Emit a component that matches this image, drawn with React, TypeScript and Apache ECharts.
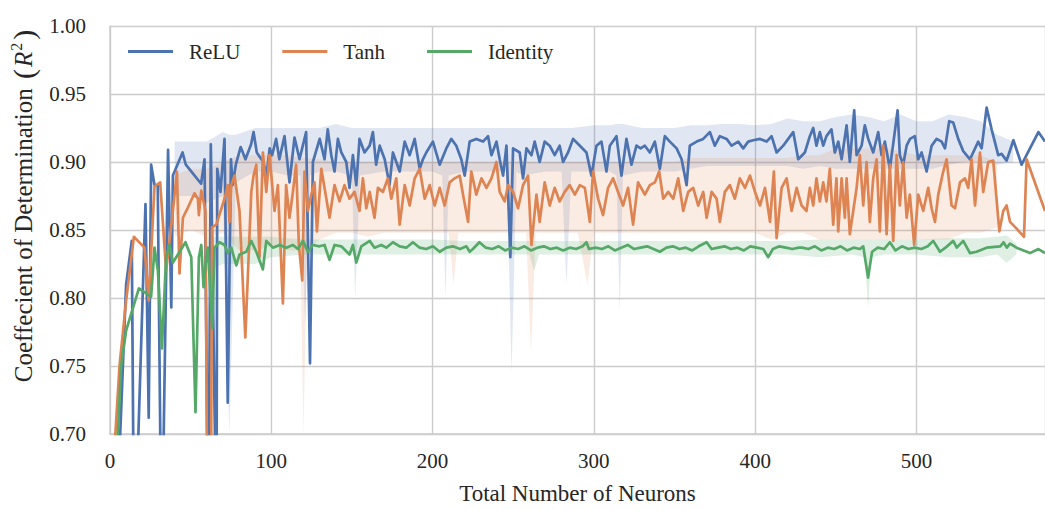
import React, { useEffect, useRef } from "react";
import * as echarts from "echarts";

// ---- data: [neurons, R^2] ----
const reluPoints: number[][] = [
  [5, 0.66], [10, 0.81], [13.5, 0.842], [15, 0.6], [22, 0.869], [24, 0.712], [25.5, 0.898], [27.6, 0.883],
  [29.6, 0.883], [32, 0.6], [36, 0.909], [38, 0.793], [39, 0.89], [45, 0.907], [47, 0.898], [56.5, 0.884],
  [58.6, 0.902], [61, 0.62], [62.5, 0.913], [66, 0.62], [66.5, 0.895], [68.5, 0.878], [71, 0.917], [73, 0.723],
  [75, 0.902], [76, 0.883], [78, 0.898], [81, 0.911], [84, 0.902], [87.5, 0.913], [89, 0.922], [91, 0.907],
  [95, 0.9], [97, 0.89], [99, 0.91], [100.5, 0.905], [103, 0.917], [105, 0.902], [108.2, 0.919], [111.3, 0.885],
  [114.4, 0.918], [117.5, 0.902], [121.6, 0.922], [124, 0.752], [125.8, 0.9], [130, 0.917], [133, 0.902],
  [135, 0.924], [137.2, 0.905], [139.2, 0.893], [141.3, 0.917], [143.4, 0.907], [146.5, 0.9], [148.5, 0.881],
  [150.6, 0.905], [152.7, 0.883], [154.7, 0.917], [157.8, 0.907], [161, 0.912], [163, 0.922], [165, 0.898],
  [167.2, 0.912], [170.3, 0.902], [173.3, 0.883], [175.4, 0.907], [179.6, 0.893], [182.7, 0.915], [185.8, 0.905],
  [188.9, 0.917], [192, 0.895], [194, 0.902], [196.1, 0.907], [200.2, 0.915], [204.4, 0.898], [208.5, 0.91],
  [211.6, 0.917], [214.7, 0.912], [217.8, 0.902], [219.9, 0.89], [223, 0.915], [227.1, 0.917], [231.3, 0.915],
  [234.4, 0.919], [236.5, 0.905], [239.6, 0.915], [241.6, 0.902], [243.7, 0.89], [245.8, 0.912], [248.2, 0.83],
  [249.9, 0.91], [254, 0.907], [256.1, 0.888], [258.2, 0.91], [261.3, 0.905], [263.3, 0.915], [266.4, 0.9],
  [269.5, 0.915], [272.6, 0.912], [275.7, 0.905], [278.8, 0.912], [280.9, 0.9], [284, 0.907], [287.1, 0.917],
  [291.3, 0.912], [295.4, 0.907], [298.5, 0.89], [301.6, 0.912], [304.7, 0.915], [307.8, 0.893], [309.9, 0.912],
  [314, 0.919], [317.1, 0.89], [320.2, 0.917], [323.3, 0.898], [326.4, 0.912], [329, 0.91], [331.6, 0.912],
  [334.7, 0.907], [337.8, 0.915], [340.9, 0.895], [344, 0.919], [347.1, 0.915], [351.3, 0.91], [354.4, 0.902],
  [357.5, 0.883], [359.5, 0.912], [363.7, 0.915], [367.8, 0.917], [371.9, 0.922], [375, 0.912], [378.1, 0.919],
  [382.3, 0.917], [385.4, 0.912], [389.5, 0.915], [392.6, 0.91], [395.7, 0.915], [398.8, 0.916], [403, 0.917],
  [407.1, 0.915], [410.2, 0.919], [413.3, 0.907], [417.4, 0.912], [420.5, 0.917], [423.6, 0.922], [426.7, 0.902],
  [430.8, 0.907], [433.9, 0.919], [436, 0.925], [438, 0.912], [440.1, 0.922], [442.2, 0.912], [444.2, 0.919],
  [447.3, 0.924], [449.4, 0.907], [451.5, 0.915], [453.6, 0.902], [456.7, 0.927], [458.7, 0.9], [461.4, 0.938],
  [462.9, 0.905], [466, 0.912], [468, 0.927], [470.1, 0.917], [473.2, 0.907], [476.3, 0.922], [478.4, 0.905],
  [480.4, 0.915], [483.5, 0.895], [486, 0.917], [488.3, 0.938], [489.7, 0.905], [491.8, 0.898], [493.9, 0.912],
  [496, 0.917], [499, 0.919], [501.1, 0.902], [503.2, 0.907], [506.3, 0.893], [509.4, 0.912], [512.5, 0.917],
  [515.6, 0.915], [517.7, 0.91], [520.3, 0.93], [522.8, 0.929], [525.9, 0.917], [529, 0.908], [533.2, 0.902],
  [538.3, 0.915], [540.4, 0.91], [543.5, 0.94], [546.6, 0.924], [550.7, 0.905], [552.8, 0.906], [555.9, 0.901],
  [560.1, 0.916], [565.2, 0.898], [570.4, 0.91], [575.6, 0.922], [579.7, 0.915],
];

const tanhPoints: number[][] = [
  [2.8, 0.69], [5.9, 0.75], [10, 0.798], [14.8, 0.845], [21.4, 0.837], [24, 0.798], [27.6, 0.882], [31.1, 0.885],
  [34.8, 0.82], [39, 0.864], [41.5, 0.893], [43.1, 0.818], [45.2, 0.859], [47.3, 0.864], [52.4, 0.877],
  [54.5, 0.873], [55.1, 0.861], [56.6, 0.879], [59.2, 0.864], [60.5, 0.6], [62.5, 0.6], [63.2, 0.852],
  [65.9, 0.854], [71, 0.873], [73.1, 0.883], [74.1, 0.856], [75.2, 0.883], [77.2, 0.89], [80.3, 0.864],
  [83.9, 0.771], [87.6, 0.878], [89, 0.89], [90.7, 0.898], [92.7, 0.83], [94.8, 0.907], [96.9, 0.878],
  [98.9, 0.905], [102, 0.864], [104.1, 0.883], [107.2, 0.796], [109.2, 0.883], [111.3, 0.859], [113.4, 0.878],
  [115.4, 0.898], [117.1, 0.839], [119.2, 0.813], [120.6, 0.893], [122.7, 0.864], [124.8, 0.876], [126.8, 0.885],
  [128.3, 0.849], [131, 0.895], [133, 0.881], [136.1, 0.859], [139.2, 0.883], [142.3, 0.871], [145.4, 0.883],
  [148.5, 0.873], [151.6, 0.878], [154.7, 0.864], [156.8, 0.888], [158.9, 0.866], [161, 0.878], [164, 0.859],
  [166.1, 0.881], [169.2, 0.878], [172.3, 0.888], [174.4, 0.873], [177.5, 0.888], [179.6, 0.854], [182.7, 0.883],
  [185.8, 0.868], [188.9, 0.888], [192, 0.895], [195.1, 0.873], [198.2, 0.883], [201.3, 0.868], [204.4, 0.881],
  [207.5, 0.868], [210.6, 0.885], [213.7, 0.888], [216.8, 0.89], [218.9, 0.876], [222, 0.856], [224, 0.893],
  [227.1, 0.876], [230.3, 0.888], [233.4, 0.881], [236.5, 0.888], [239.6, 0.9], [241.6, 0.878], [244.7, 0.871],
  [246.8, 0.883], [249.9, 0.878], [253, 0.866], [256.1, 0.883], [259.2, 0.89], [261.3, 0.839], [264.4, 0.876],
  [266.4, 0.856], [269.5, 0.885], [272.6, 0.868], [275.7, 0.881], [278.8, 0.871], [281.9, 0.878], [285, 0.883],
  [288.2, 0.876], [291.3, 0.883], [294.4, 0.881], [297.5, 0.856], [299.5, 0.893], [302.6, 0.873], [305.7, 0.861],
  [308.8, 0.881], [311.9, 0.888], [315, 0.878], [318.1, 0.868], [321.2, 0.881], [324.3, 0.854], [327.4, 0.885],
  [331.6, 0.876], [334.7, 0.883], [337.8, 0.885], [340.5, 0.893], [343, 0.873], [346.1, 0.878], [349.2, 0.873],
  [352.3, 0.888], [355.4, 0.864], [358.5, 0.878], [361.6, 0.881], [364.7, 0.868], [367.8, 0.878], [369.9, 0.859],
  [373, 0.878], [376.1, 0.873], [378.1, 0.856], [381.2, 0.878], [384.3, 0.883], [387.4, 0.873], [390.5, 0.888],
  [393.7, 0.881], [396.8, 0.89], [399.9, 0.878], [403, 0.868], [406.1, 0.881], [409.2, 0.856], [411.6, 0.893],
  [413.3, 0.844], [416.4, 0.881], [419.5, 0.888], [422.6, 0.864], [425.7, 0.881], [428.8, 0.868], [431.8, 0.864],
  [433.9, 0.881], [436, 0.868], [438, 0.888], [440.1, 0.871], [442.2, 0.885], [444.2, 0.871], [446.3, 0.895],
  [448.4, 0.854], [450.4, 0.888], [451.5, 0.849], [453.6, 0.888], [455.6, 0.859], [456.7, 0.888], [458.7, 0.847],
  [460.8, 0.864], [462.9, 0.881], [464.9, 0.905], [467, 0.868], [469.1, 0.9], [471.1, 0.856], [473.2, 0.888],
  [475.3, 0.902], [477.3, 0.849], [479.4, 0.912], [481.5, 0.847], [483.5, 0.898], [485.6, 0.842], [487.7, 0.905],
  [489.7, 0.868], [491.8, 0.9], [493.9, 0.859], [495.9, 0.876], [498.6, 0.839], [501.1, 0.876], [504.2, 0.864],
  [507.3, 0.881], [509.4, 0.866], [511.5, 0.856], [513.5, 0.876], [516.6, 0.893], [518.7, 0.902], [521.8, 0.868],
  [523.9, 0.866], [527, 0.885], [530.1, 0.888], [532.1, 0.881], [534.2, 0.902], [536.3, 0.868], [539.4, 0.907],
  [541.4, 0.878], [544.5, 0.9], [547.6, 0.901], [551.4, 0.849], [553.8, 0.864], [555.9, 0.868], [558, 0.856],
  [562.1, 0.851], [566.7, 0.845], [568.3, 0.902], [579.7, 0.864],
];

const identityPoints: number[][] = [
  [4.5, 0.69], [6.9, 0.75], [10, 0.776], [17.9, 0.807], [25.5, 0.801], [27.6, 0.837], [29.7, 0.82], [32.2, 0.763],
  [34.8, 0.83], [36.9, 0.839], [39, 0.826], [46.8, 0.841], [50.4, 0.83], [53, 0.716], [55.1, 0.83], [56.6, 0.839],
  [58, 0.808], [59.7, 0.83], [60.7, 0.837], [63.4, 0.778], [64.8, 0.837], [67.9, 0.841], [71, 0.839], [73.1, 0.833],
  [75.2, 0.837], [78.3, 0.824], [80.3, 0.832], [84.5, 0.834], [87.6, 0.842], [90.7, 0.834], [94.8, 0.821],
  [96.9, 0.842], [101, 0.837], [105.2, 0.839], [109.3, 0.837], [113.4, 0.839], [116.5, 0.836], [119.6, 0.842],
  [122.7, 0.834], [125.8, 0.839], [129.9, 0.838], [133, 0.839], [136.1, 0.828], [139.2, 0.839], [143.4, 0.838],
  [148.5, 0.832], [150.6, 0.839], [152.7, 0.826], [155.8, 0.838], [161, 0.842], [164, 0.837], [168.2, 0.839],
  [171.3, 0.837], [175.4, 0.841], [179.6, 0.838], [183.7, 0.837], [187.8, 0.841], [192, 0.837], [196.1, 0.836],
  [200.2, 0.838], [204.4, 0.834], [208.5, 0.837], [212.6, 0.838], [217, 0.836], [221, 0.838], [223, 0.834],
  [225, 0.836], [229, 0.841], [233, 0.837], [237, 0.836], [241, 0.838], [245, 0.835], [249, 0.837], [253, 0.836],
  [257, 0.838], [261, 0.835], [265, 0.837], [269, 0.838], [273, 0.836], [277, 0.837], [281, 0.835], [285, 0.837],
  [289, 0.836], [293, 0.838], [295.4, 0.841], [297, 0.836], [301, 0.837], [305, 0.836], [309, 0.838], [313, 0.835],
  [317, 0.837], [321, 0.839], [325, 0.836], [329, 0.837], [333, 0.838], [337, 0.836], [340.9, 0.834], [345, 0.837],
  [349, 0.838], [353, 0.836], [357, 0.837], [361, 0.835], [365, 0.838], [369.9, 0.841], [373, 0.836], [377, 0.837],
  [381, 0.838], [385, 0.836], [389, 0.837], [393, 0.835], [397, 0.838], [401, 0.837], [405, 0.836], [408.1, 0.83],
  [411, 0.836], [415, 0.838], [419, 0.837], [423, 0.836], [427, 0.837], [429, 0.837], [433, 0.836], [437, 0.838],
  [441, 0.835], [445, 0.837], [449, 0.836], [453, 0.838], [457, 0.835], [461, 0.837], [465, 0.836], [467, 0.838],
  [470, 0.815], [472.5, 0.834], [476, 0.837], [480, 0.836], [483.5, 0.841], [487, 0.835], [491, 0.838], [495, 0.836],
  [499, 0.837], [503, 0.836], [507, 0.838], [510.4, 0.842], [514.6, 0.834], [518, 0.837], [522.8, 0.842],
  [525, 0.837], [529, 0.842], [533.2, 0.833], [537.3, 0.834], [543.5, 0.837], [552, 0.838], [554, 0.841],
  [556, 0.837], [558, 0.84], [562, 0.837], [570.4, 0.833], [575.6, 0.836], [579.7, 0.833],
];

// ---- confidence bands: [neurons, lower, upper] ----
const reluBand: number[][] = [
  [40, 0.875, 0.915], [50, 0.875, 0.915], [60, 0.87, 0.915], [70, 0.875, 0.922], [74, 0.7, 0.92], [78, 0.885, 0.92],
  [90, 0.893, 0.925], [100, 0.893, 0.925], [110, 0.89, 0.925], [118, 0.89, 0.925], [121, 0.78, 0.925],
  [124, 0.89, 0.925], [130, 0.893, 0.925], [140, 0.893, 0.928], [150, 0.89, 0.925], [152, 0.8, 0.925],
  [155, 0.89, 0.925], [170, 0.893, 0.925], [180, 0.893, 0.925], [190, 0.893, 0.925], [200, 0.893, 0.925],
  [206, 0.89, 0.925], [208, 0.8, 0.925], [210, 0.89, 0.925], [220, 0.893, 0.925], [230, 0.893, 0.925],
  [240, 0.893, 0.925], [246, 0.893, 0.925], [249, 0.745, 0.925], [252, 0.893, 0.925], [256, 0.89, 0.925],
  [270, 0.893, 0.925], [280, 0.893, 0.925], [283, 0.81, 0.925], [286, 0.893, 0.925], [300, 0.893, 0.927],
  [310, 0.893, 0.927], [314, 0.89, 0.928], [316, 0.79, 0.928], [318, 0.89, 0.928], [330, 0.893, 0.925],
  [340, 0.893, 0.925], [350, 0.893, 0.925], [360, 0.895, 0.927], [370, 0.897, 0.927], [380, 0.897, 0.928],
  [390, 0.897, 0.928], [400, 0.897, 0.927], [410, 0.897, 0.928], [420, 0.897, 0.932], [430, 0.895, 0.93],
  [440, 0.897, 0.93], [450, 0.895, 0.933], [460, 0.895, 0.935], [470, 0.895, 0.933], [480, 0.895, 0.93],
  [490, 0.895, 0.935], [500, 0.895, 0.93], [510, 0.895, 0.93], [520, 0.898, 0.935], [530, 0.9, 0.933],
  [540, 0.9, 0.93], [550, 0.898, 0.92], [560, 0.9, 0.915],
];

const tanhBand: number[][] = [
  [40, 0.845, 0.89], [50, 0.85, 0.895], [60, 0.845, 0.895], [70, 0.848, 0.9], [80, 0.835, 0.905], [90, 0.835, 0.905],
  [100, 0.838, 0.905], [110, 0.835, 0.905], [118, 0.835, 0.903], [120, 0.7, 0.903], [122, 0.835, 0.903],
  [130, 0.843, 0.902], [140, 0.848, 0.9], [150, 0.848, 0.9], [160, 0.845, 0.9], [170, 0.848, 0.9],
  [180, 0.848, 0.9], [190, 0.848, 0.9], [200, 0.848, 0.9], [210, 0.848, 0.9], [213, 0.81, 0.9],
  [216, 0.848, 0.9], [220, 0.848, 0.9], [230, 0.848, 0.9], [240, 0.848, 0.9], [250, 0.848, 0.9],
  [258, 0.848, 0.9], [261, 0.76, 0.9], [264, 0.848, 0.9], [270, 0.848, 0.9], [280, 0.848, 0.9],
  [290, 0.848, 0.9], [296, 0.81, 0.9], [300, 0.848, 0.9], [310, 0.848, 0.9], [320, 0.848, 0.9],
  [330, 0.848, 0.9], [340, 0.848, 0.9], [350, 0.848, 0.9], [360, 0.848, 0.903], [370, 0.848, 0.903],
  [380, 0.848, 0.903], [390, 0.848, 0.903], [400, 0.848, 0.903], [410, 0.843, 0.903], [420, 0.848, 0.903],
  [430, 0.848, 0.905], [440, 0.843, 0.905], [450, 0.843, 0.91], [460, 0.843, 0.91], [470, 0.843, 0.91],
  [480, 0.843, 0.91], [490, 0.843, 0.908], [500, 0.843, 0.905], [510, 0.843, 0.905], [520, 0.843, 0.905],
  [530, 0.848, 0.905], [540, 0.848, 0.905], [550, 0.852, 0.9],
];

const identityBand: number[][] = [
  [60, 0.82, 0.845], [70, 0.825, 0.845], [80, 0.825, 0.845], [90, 0.825, 0.845], [100, 0.83, 0.845],
  [120, 0.832, 0.843], [140, 0.832, 0.843], [160, 0.832, 0.843], [180, 0.832, 0.843], [200, 0.832, 0.843],
  [220, 0.832, 0.842], [240, 0.832, 0.842], [260, 0.832, 0.842], [263, 0.82, 0.842], [266, 0.832, 0.842],
  [280, 0.832, 0.842], [300, 0.832, 0.842], [320, 0.832, 0.842], [340, 0.832, 0.842], [360, 0.832, 0.842],
  [380, 0.832, 0.842], [400, 0.832, 0.842], [420, 0.832, 0.842], [440, 0.83, 0.843], [460, 0.832, 0.843],
  [468, 0.83, 0.843], [470, 0.793, 0.843], [472, 0.83, 0.843], [480, 0.832, 0.843], [500, 0.832, 0.843],
  [520, 0.83, 0.844], [540, 0.83, 0.844], [550, 0.832, 0.845], [556, 0.826, 0.846], [562, 0.832, 0.84],
];

const seriesNames = ["ReLU", "Tanh", "Identity"];
const seriesColors = ["#4c72b0", "#dd8452", "#55a868"];
const bandColors = ["rgba(76,114,176,0.17)", "rgba(221,132,82,0.16)", "rgba(85,168,104,0.18)"];
const yTicks = { min: 0.7, max: 1.0, step: 0.05 };
const xTicks = { min: 0, max: 579.7, step: 100 };

const FONT = "Liberation Serif";
const TEXT = "#262626";
const GRID = "#cccccc";

function bandSeries(band: number[][], color: string) {
  return {
    type: "custom",
    silent: true,
    clip: true,
    z: 1,
    data: band,
    encode: { x: 0, y: [1, 2] },
    renderItem: (params: any, api: any) => {
      if (params.dataIndex !== 0) return { type: "group", children: [] };
      const pts: number[][] = [];
      for (let i = 0; i < band.length; i++) pts.push(api.coord([band[i][0], band[i][2]]));
      for (let i = band.length - 1; i >= 0; i--) pts.push(api.coord([band[i][0], band[i][1]]));
      return { type: "polygon", shape: { points: pts }, style: { fill: color, stroke: "none" } };
    },
  };
}

function lineSeries(name: string, points: number[][], color: string) {
  return {
    type: "line",
    name,
    data: points,
    showSymbol: false,
    symbol: "none",
    clip: true,
    z: 3,
    lineStyle: { color, width: 2.7, join: "round" },
    itemStyle: { color },
  };
}

export default function App() {
  const ref = useRef<HTMLDivElement>(null);
  useEffect(() => {
    if (!ref.current) return;
    const chart = echarts.init(ref.current, undefined, { renderer: "svg", width: 1045, height: 510 });
    chart.setOption({
      animation: false,
      backgroundColor: "#ffffff",
      textStyle: { fontFamily: FONT, color: TEXT },
      grid: { left: 110, right: 0, top: 26, bottom: 72, containLabel: false },
      legend: {
        data: seriesNames,
        left: 128,
        top: 41,
        padding: 0,
        icon: "rect",
        itemWidth: 45,
        itemHeight: 3,
        itemGap: 42,
        textStyle: { fontFamily: FONT, fontSize: 21, color: TEXT, padding: [0, 0, 0, 11] },
      },
      xAxis: {
        type: "value",
        min: xTicks.min,
        max: xTicks.max,
        interval: xTicks.step,
        axisLine: { show: true, lineStyle: { color: GRID, width: 1.5 } },
        axisTick: { show: false },
        splitLine: { show: true, lineStyle: { color: GRID, width: 1.4 } },
        axisLabel: { fontFamily: FONT, fontSize: 21, color: TEXT, margin: 16, showMaxLabel: false },
        name: "Total Number of Neurons",
        nameLocation: "middle",
        nameGap: 48,
        nameTextStyle: { fontFamily: FONT, fontSize: 23, color: TEXT },
      },
      yAxis: {
        type: "value",
        min: yTicks.min,
        max: yTicks.max,
        interval: yTicks.step,
        axisLine: { show: true, lineStyle: { color: GRID, width: 1.5 } },
        axisTick: { show: false },
        splitLine: { show: true, lineStyle: { color: GRID, width: 1.4 } },
        axisLabel: {
          fontFamily: FONT,
          fontSize: 21,
          color: TEXT,
          margin: 24,
          formatter: (v: number) => v.toFixed(2),
        },
        name: "{a|Coeffecient of Determination }{p|(}{i|R}{s|2}{q|)}",
        nameLocation: "middle",
        nameGap: 63,
        nameTextStyle: {
          fontFamily: FONT,
          fontSize: 25,
          color: TEXT,
          padding: [0, 0, 0, 48],
          rich: {
            a: { fontFamily: FONT, fontSize: 25, color: TEXT },
            p: { fontFamily: FONT, fontSize: 30, color: TEXT, padding: [0, 2, 0, 3] },
            q: { fontFamily: FONT, fontSize: 30, color: TEXT, padding: [0, 0, 0, 2] },
            i: { fontFamily: FONT, fontSize: 25, color: TEXT, fontStyle: "italic" },
            s: { fontFamily: FONT, fontSize: 16, color: TEXT, verticalAlign: "top", padding: [0, 1, 0, 1] },
          },
        },
      },
      series: [
        bandSeries(reluBand, bandColors[0]),
        bandSeries(tanhBand, bandColors[1]),
        bandSeries(identityBand, bandColors[2]),
        lineSeries(seriesNames[0], reluPoints, seriesColors[0]),
        lineSeries(seriesNames[1], tanhPoints, seriesColors[1]),
        lineSeries(seriesNames[2], identityPoints, seriesColors[2]),
      ],
    });
    return () => chart.dispose();
  }, []);
  return (
    <div
      ref={ref}
      style={{ position: "fixed", left: 0, top: 0, width: 1045, height: 510, background: "#fff" }}
    />
  );
}
